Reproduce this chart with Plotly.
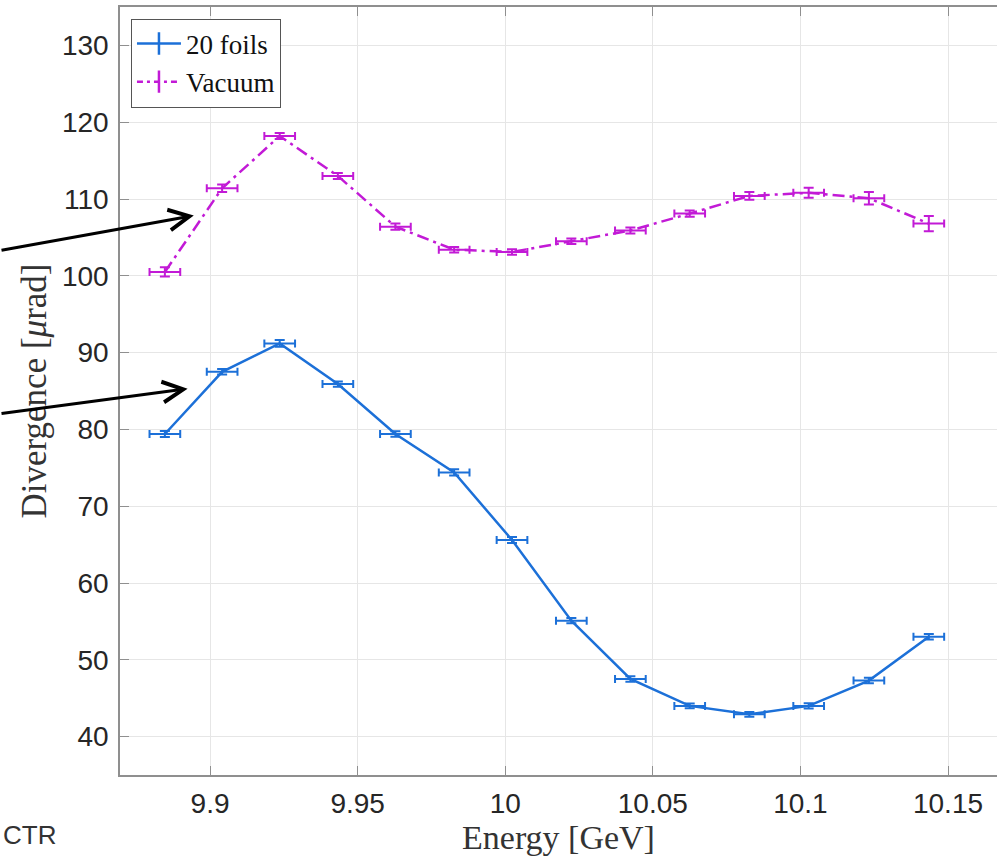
import plotly.graph_objects as go

energy = [9.8847, 9.9041, 9.9236, 9.9433, 9.9628, 9.9827, 10.0023,
          10.0224, 10.0424, 10.0625, 10.0827, 10.1028, 10.1232, 10.1435]
energy_err = [0.0052] * 14

foils = [79.4, 87.5, 91.2, 85.9, 79.4, 74.4, 65.6,
         55.1, 47.5, 44.0, 42.9, 44.0, 47.3, 53.0]
foils_err = [0.4, 0.35, 0.45, 0.35, 0.35, 0.4, 0.4,
             0.35, 0.35, 0.3, 0.3, 0.35, 0.35, 0.35]

vacuum = [100.5, 111.4, 118.2, 113.0, 106.4, 103.4, 103.1,
          104.5, 105.9, 108.1, 110.4, 110.8, 110.1, 106.8]
vacuum_err = [0.6, 0.5, 0.4, 0.4, 0.4, 0.35, 0.35,
              0.35, 0.4, 0.4, 0.5, 0.65, 0.8, 1.0]

series_names = ["20 foils", "Vacuum"]
x_ticks = [9.9, 9.95, 10.0, 10.05, 10.1, 10.15]
x_ticktext = ["9.9", "9.95", "10", "10.05", "10.1", "10.15"]
y_ticks = [40, 50, 60, 70, 80, 90, 100, 110, 120, 130]

BLUE = "#1c70d8"
MAG = "#c21ad6"
DASHDOT = "12px,5px,3px,5px"

fig = go.Figure()

fig.add_trace(go.Scatter(
    x=energy, y=foils, mode="lines", showlegend=False,
    line=dict(color=BLUE, width=2.5),
    error_y=dict(type="data", array=foils_err, color=BLUE, thickness=2, width=5),
    error_x=dict(type="data", array=energy_err, color=BLUE, thickness=2, width=4),
))
fig.add_trace(go.Scatter(
    x=energy, y=vacuum, mode="lines", showlegend=False,
    line=dict(color=MAG, width=2.5, dash=DASHDOT),
    error_y=dict(type="data", array=vacuum_err, color=MAG, thickness=2, width=5),
    error_x=dict(type="data", array=energy_err, color=MAG, thickness=2, width=4),
))

# legend entries
fig.add_trace(go.Scatter(
    x=[None], y=[None], mode="lines+markers", name=series_names[0],
    line=dict(color=BLUE, width=2.5),
    marker=dict(symbol="line-ns-open", size=16, color=BLUE, line=dict(width=2.5, color=BLUE)),
))
fig.add_trace(go.Scatter(
    x=[None], y=[None], mode="lines+markers", name=series_names[1],
    line=dict(color=MAG, width=2.5, dash="6px,4px,3px,4px"),
    marker=dict(symbol="line-ns-open", size=16, color=MAG, line=dict(width=2.5, color=MAG)),
))

axis_col = "#8f8f8f"
fig.update_xaxes(
    range=[9.8695, 10.1666], tickvals=x_ticks, ticktext=x_ticktext,
    showgrid=True, gridcolor="#e6e6e6", gridwidth=1,
    showline=True, linecolor=axis_col, linewidth=1.5, mirror="ticks",
    ticks="inside", ticklen=9, tickcolor=axis_col, tickwidth=1,
    ticklabelstandoff=3,
    tickfont=dict(family="Liberation Sans, Arial", size=28, color="#262626"),
    title=dict(text="Energy [GeV]", standoff=2,
               font=dict(family="Liberation Serif, serif", size=34, color="#333333")),
    zeroline=False,
)
fig.update_yaxes(
    range=[35, 135], tickvals=y_ticks,
    showgrid=True, gridcolor="#e6e6e6", gridwidth=1,
    showline=True, linecolor=axis_col, linewidth=1.5, mirror=False,
    ticks="inside", ticklen=9, tickcolor=axis_col, tickwidth=1,
    ticklabelstandoff=4,
    tickfont=dict(family="Liberation Sans, Arial", size=28, color="#262626"),
    title=dict(text="Divergence [<i>μ</i>rad]", standoff=5,
               font=dict(family="Liberation Serif, serif", size=35, color="#333333")),
    zeroline=False,
)

fig.update_layout(
    width=997, height=858,
    margin=dict(l=120, r=0, t=7, b=83),
    plot_bgcolor="white", paper_bgcolor="white",
    legend=dict(x=0.0125, y=0.985, xanchor="left", yanchor="top",
                bgcolor="white", bordercolor="#555555", borderwidth=1,
                itemwidth=44, tracegroupgap=0,
                font=dict(family="Liberation Serif, serif", size=27, color="#111111")),
    annotations=[
        dict(x=9.8945, y=107.85, xref="x", yref="y", ax=-200, ay=35, axref="pixel", ayref="pixel",
             showarrow=True, arrowhead=5, arrowwidth=3, arrowsize=1.35, arrowcolor="black", text=""),
        dict(x=9.8924, y=85.3, xref="x", yref="y", ax=-195, ay=25, axref="pixel", ayref="pixel",
             showarrow=True, arrowhead=5, arrowwidth=3, arrowsize=1.35, arrowcolor="black", text=""),
        dict(x=-0.1355, y=-0.078, xref="paper", yref="paper", xanchor="left", yanchor="middle",
             showarrow=False, text="CTR",
             font=dict(family="Liberation Sans, Arial", size=26, color="#333333")),
    ],
)

fig.write_html("out.html", config={"displayModeBar": False},
               post_script="document.body.style.margin='0';")
